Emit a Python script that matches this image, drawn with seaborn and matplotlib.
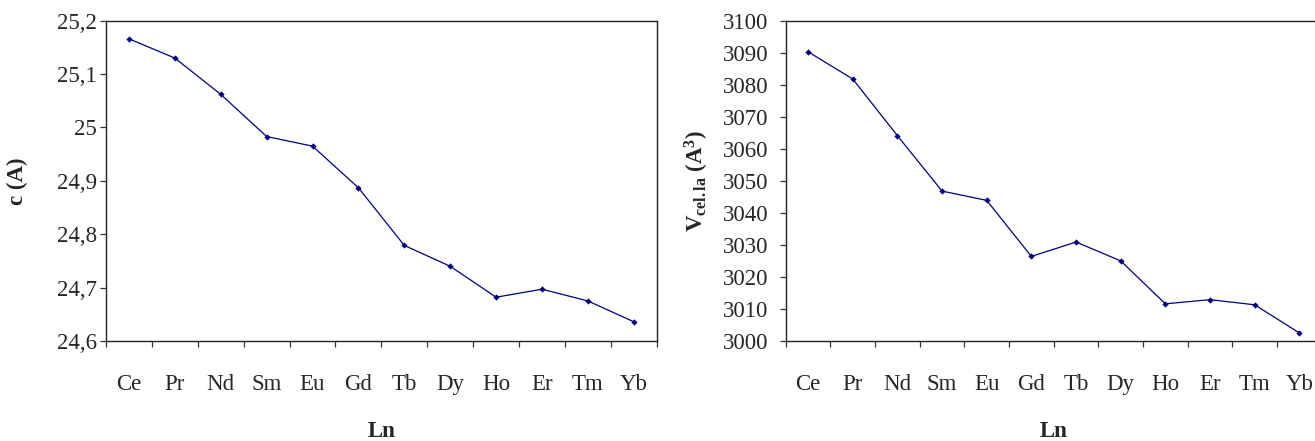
import numpy as np
import pandas as pd
import matplotlib
matplotlib.use("Agg")
import matplotlib.pyplot as plt
import seaborn as sns
from matplotlib.ticker import FixedLocator, NullFormatter

# data
ln = ["Ce", "Pr", "Nd", "Sm", "Eu", "Gd", "Tb", "Dy", "Ho", "Er", "Tm", "Yb"]
c_values = [25.166, 25.130, 25.062, 24.983, 24.965, 24.887, 24.779, 24.740,
            24.682, 24.697, 24.675, 24.636]
v_values = [3090.3, 3081.8, 3064.1, 3046.8, 3043.9, 3026.4, 3030.9, 3025.0,
            3011.6, 3012.9, 3011.3, 3002.5]
c_ticks = [24.6, 24.7, 24.8, 24.9, 25.0, 25.1, 25.2]
c_ticklabels = ["24,6", "24,7", "24,8", "24,9", "25", "25,1", "25,2"]
v_ticks = [3000, 3010, 3020, 3030, 3040, 3050, 3060, 3070, 3080, 3090, 3100]
v_ticklabels = [str(t) for t in v_ticks]

sns.set_style("ticks")
plt.rcParams["font.family"] = ["Liberation Serif", "DejaVu Serif"]
plt.rcParams["mathtext.fontset"] = "custom"
plt.rcParams["mathtext.rm"] = "Liberation Serif"
plt.rcParams["mathtext.bf"] = "Liberation Serif:bold"
plt.rcParams["mathtext.it"] = "Liberation Serif:italic"

df = pd.DataFrame({"Ln": ln, "pos": np.arange(len(ln)), "c": c_values, "V": v_values})

fig = plt.figure(figsize=(13.15, 4.41), dpi=100)
ax1 = fig.add_axes([0.0806, 0.2268, 0.4188, 0.7263])
ax2 = fig.add_axes([0.5975, 0.2268, 0.4076, 0.7263])

fs = 16.5
for ax, col, ticks, labels, ypad in [(ax1, "c", c_ticks, c_ticklabels, 2),
                                     (ax2, "V", v_ticks, v_ticklabels, 8)]:
    sns.lineplot(data=df, x="pos", y=col, ax=ax, color="#000080", lw=0.9,
                 marker="D", markersize=3.2, markeredgewidth=0, sort=False)
    ax.set_xlim(-0.5, len(ln) - 0.5)
    ax.set_ylim(ticks[0], ticks[-1])
    ax.set_yticks(ticks)
    ax.set_yticklabels(labels, fontsize=fs)
    ax.xaxis.set_major_locator(FixedLocator(np.arange(-0.5, len(ln), 1.0)))
    ax.xaxis.set_major_formatter(NullFormatter())
    ax.xaxis.set_minor_locator(FixedLocator(df["pos"]))
    ax.set_xticklabels(ln, minor=True, fontsize=fs)
    ax.tick_params(axis="x", which="major", direction="out", length=4.5, width=0.9, color="#333333")
    ax.tick_params(axis="x", which="minor", length=0, pad=24)
    ax.tick_params(axis="y", direction="out", length=4.5, width=0.9, pad=ypad, color="#333333")
    for s in ax.spines.values():
        s.set_visible(True)
        s.set_linewidth(1.0)
        s.set_color("#222222")
    ax.set_xlabel("Ln", fontsize=fs, fontweight="bold")
    ax.xaxis.set_label_coords(0.5, -0.284)
    ax.xaxis.label.set_va("center")

ax1.set_ylabel("c (A)", fontsize=fs, fontweight="bold")
ax1.yaxis.set_label_coords(-0.16, 0.5)
ax1.yaxis.label.set_va("center")

ax2.set_ylabel(r"$\mathbf{V_{cel.la}}$ (A$^{\mathbf{3}}$)", fontsize=fs, fontweight="bold")
ax2.yaxis.set_label_coords(-0.165, 0.5)
ax2.yaxis.label.set_va("center")

fig.savefig("out.png", dpi=100)
